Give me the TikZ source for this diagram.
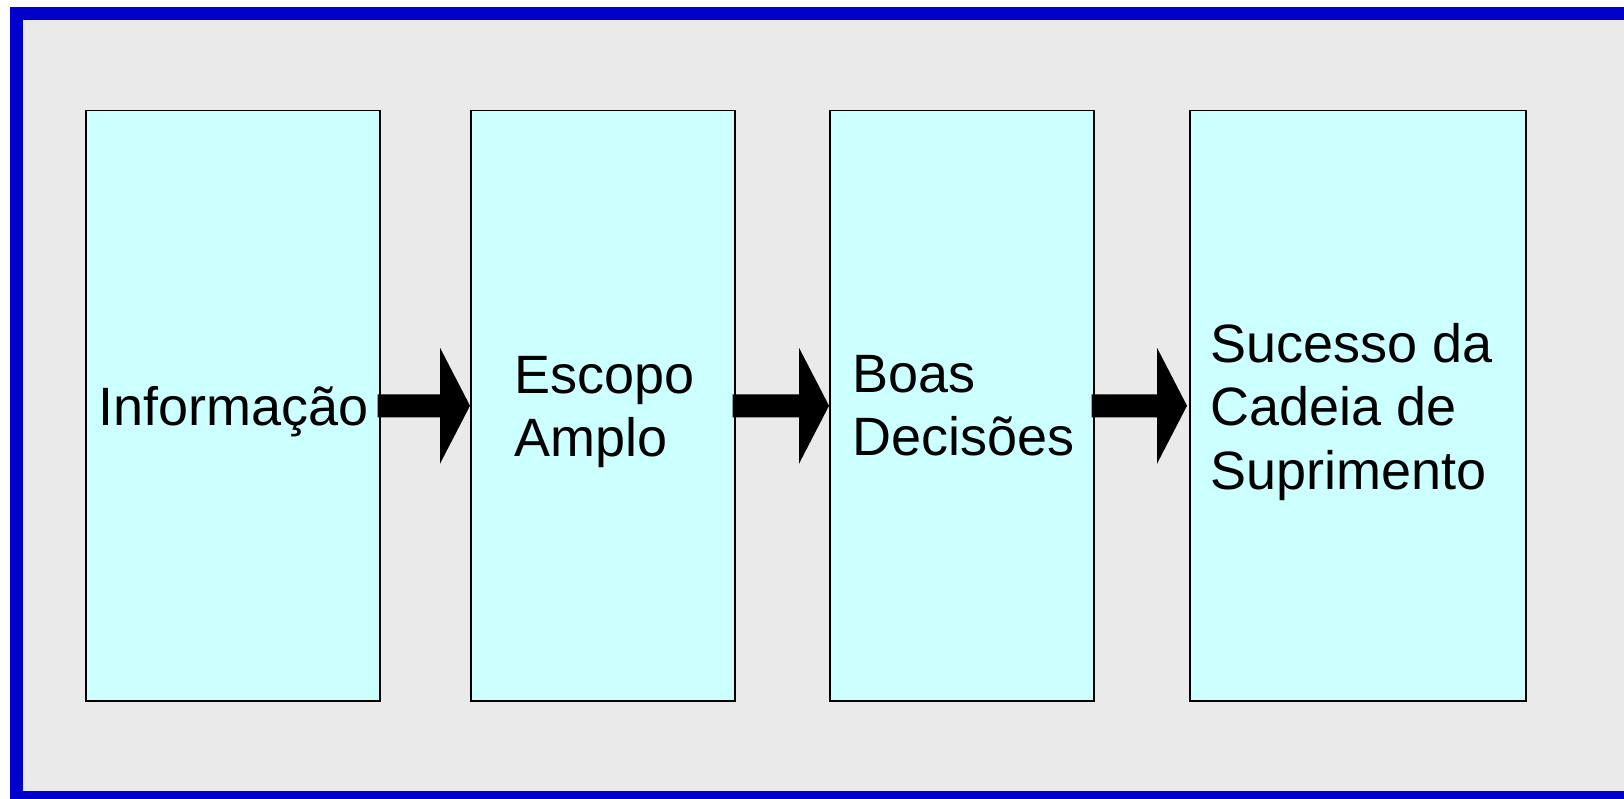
\documentclass[tikz,border=0pt]{standalone}
\usepackage{fontspec}
\setmainfont{Liberation Sans}
\usetikzlibrary{calc}
\definecolor{frameblue}{HTML}{0000CC}
\definecolor{panelgray}{HTML}{EAEAEA}
\definecolor{boxcyan}{HTML}{CCFFFF}
\tikzset{
  stagebox/.style={draw=black, line width=1.5pt, fill=boxcyan, inner sep=0pt, anchor=north west},
  stagetext/.style={inner sep=0pt, anchor=base west, font=\fontsize{54}{63.5}\selectfont},
}
% left-aligned lines whose first baseline is the node's baseline
\newcommand{\stagelines}[1]{\begin{tabular}[t]{@{}l@{}}#1\end{tabular}}
% block arrow from the right side of one box to the left side of the next
\newcommand{\flowarrow}[3]{%
  \fill[black] ($(#1.east)+(-3,-11.5)$) -- ($(#2.west)+(-30-#3,-11.5)$) -- ($(#2.west)+(-30-#3,-58)$)
    -- ($(#2.west)+(-#3,0)$) -- ($(#2.west)+(-30-#3,58)$) -- ($(#2.west)+(-30-#3,11.5)$)
    -- ($(#1.east)+(-3,11.5)$) -- cycle;}
\begin{document}
\begin{tikzpicture}[x=1pt,y=-1pt]
  \useasboundingbox (0,0) rectangle (1624,799);
  \begin{scope}
    \clip (0,0) rectangle (1624,799);
    % blue frame and gray panel
    \fill[frameblue] (10,7) rectangle (1660,830);
    \fill[panelgray] (23,20) rectangle (1660,791);
  \end{scope}
  % stage boxes
  \node[stagebox, minimum width=294pt, minimum height=590pt] (b1) at (85,110) {};
  \node[stagebox, minimum width=264pt, minimum height=590pt] (b2) at (470,110) {};
  \node[stagebox, minimum width=264pt, minimum height=590pt] (b3) at (829,110) {};
  \node[stagebox, minimum width=336pt, minimum height=590pt] (b4) at (1189,110) {};
  % labels
  \node[stagetext] (t1) at (98,425) {Informação};
  \node[stagetext] (t2) at (514,393) {\stagelines{Escopo\\Amplo}};
  \node[stagetext] (t3) at (852,392) {\stagelines{Boas\\Decisões}};
  \node[stagetext] (t4) at (1210,362) {\stagelines{Sucesso da\\Cadeia de\\Suprimento}};
  % arrows between stages
  \flowarrow{b1}{b2}{0}
  \flowarrow{b2}{b3}{0}
  \flowarrow{b3}{b4}{2}
\end{tikzpicture}
\end{document}
